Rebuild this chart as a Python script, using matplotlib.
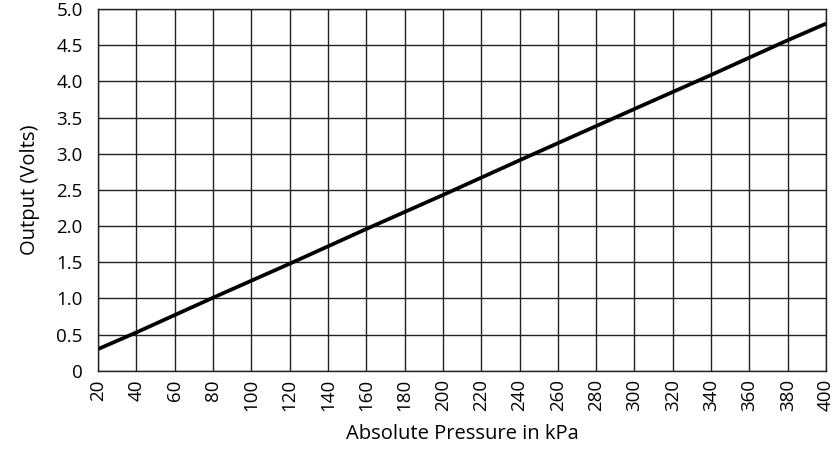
import matplotlib
matplotlib.use('Agg')
import matplotlib.pyplot as plt

# Dados
pressao = [20, 40, 80, 120, 160, 200, 240, 300, 340, 380, 400]
saida = [0.30, 0.53, 1.01, 1.48, 1.96, 2.43, 2.91, 3.62, 4.09, 4.57, 4.80]

x_ticks = list(range(20, 401, 20))
y_ticks = [0, 0.5, 1.0, 1.5, 2.0, 2.5, 3.0, 3.5, 4.0, 4.5, 5.0]
y_labels = ['0', '0.5', '1.0', '1.5', '2.0', '2.5', '3.0', '3.5', '4.0', '4.5', '5.0']

plt.rcParams['font.family'] = ['Open Sans', 'DejaVu Sans']

fig = plt.figure(figsize=(8.37, 4.55), dpi=100)
ax = fig.add_axes([0.117, 0.185, 0.870, 0.795])

ax.plot(pressao, saida, color='black', linewidth=2.7, solid_capstyle='butt')

ax.set_xlim(20, 400)
ax.set_ylim(0, 5.0)
ax.set_xticks(x_ticks)
ax.set_xticklabels([str(v) for v in x_ticks], rotation=90, fontsize=13.5)
ax.set_yticks(y_ticks)
ax.set_yticklabels(y_labels, fontsize=13.5)
ax.tick_params(axis='y', length=0, pad=11)
ax.tick_params(axis='x', length=0, pad=6)

ax.grid(True, color='#222222', linewidth=1.0)
ax.set_axisbelow(True)
for s in ax.spines.values():
    s.set_color('#222222')
    s.set_linewidth(1.0)

ax.set_xlabel('Absolute Pressure in kPa', fontsize=14.5, labelpad=9)
ax.set_ylabel('Output (Volts)', fontsize=14.5, labelpad=12)

fig.savefig('out.png', dpi=100)
